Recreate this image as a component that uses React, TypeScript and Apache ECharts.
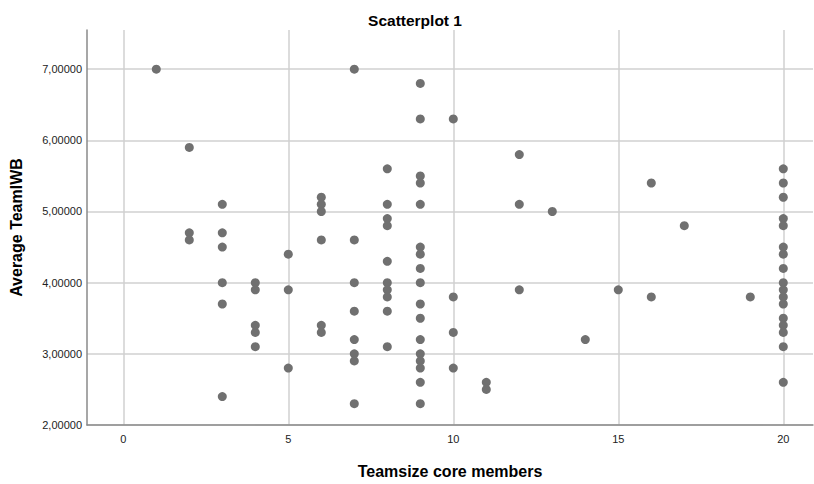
import React, { useEffect, useRef } from "react";
import * as echarts from "echarts";

const teamSize: number[] = [
  1,
  2, 2, 2,
  3, 3, 3, 3, 3, 3,
  4, 4, 4, 4, 4,
  5, 5, 5,
  6, 6, 6, 6, 6, 6,
  7, 7, 7, 7, 7, 7, 7, 7,
  8, 8, 8, 8, 8, 8, 8, 8, 8, 8,
  9, 9, 9, 9, 9, 9, 9, 9, 9, 9, 9, 9, 9, 9, 9, 9, 9,
  10, 10, 10, 10,
  11, 11,
  12, 12, 12,
  13,
  14,
  15,
  16, 16,
  17,
  19,
  20, 20, 20, 20, 20, 20, 20, 20, 20, 20, 20, 20, 20, 20, 20, 20, 20,
];

const teamWB: number[] = [
  7.0,
  5.9, 4.7, 4.6,
  5.1, 4.7, 4.5, 4.0, 3.7, 2.4,
  4.0, 3.9, 3.4, 3.3, 3.1,
  4.4, 3.9, 2.8,
  5.2, 5.1, 5.0, 4.6, 3.4, 3.3,
  7.0, 4.6, 4.0, 3.6, 3.2, 3.0, 2.9, 2.3,
  5.6, 5.1, 4.9, 4.8, 4.3, 4.0, 3.9, 3.8, 3.6, 3.1,
  6.8, 6.3, 5.5, 5.4, 5.1, 4.5, 4.4, 4.2, 4.0, 3.7, 3.5, 3.2, 3.0, 2.9, 2.8, 2.6, 2.3,
  6.3, 3.8, 3.3, 2.8,
  2.6, 2.5,
  5.8, 5.1, 3.9,
  5.0,
  3.2,
  3.9,
  5.4, 3.8,
  4.8,
  3.8,
  5.6, 5.4, 5.2, 4.9, 4.8, 4.5, 4.4, 4.2, 4.0, 3.9, 3.8, 3.7, 3.5, 3.4, 3.3, 3.1, 2.6,
];

const xTicks: number[] = [0, 5, 10, 15, 20];
const yTicks: number[] = [2, 3, 4, 5, 6, 7];

const FONT = "'Liberation Sans', Arial, sans-serif";

export default function App() {
  const ref = useRef<HTMLDivElement>(null);
  useEffect(() => {
    if (!ref.current) return;
    const chart = echarts.init(ref.current, undefined, { renderer: "svg" });
    const data = teamSize.map((x, i) => [x, teamWB[i]]);
    chart.setOption({
      animation: false,
      backgroundColor: "#ffffff",
      textStyle: { fontFamily: FONT },
      title: {
        text: "Scatterplot 1",
        left: 410,
        textAlign: "center",
        top: 7,
        textStyle: { fontFamily: FONT, fontSize: 15.5, fontWeight: "bold", color: "#000" },
      },
      grid: { left: 83, top: 30, right: 1, bottom: 54, containLabel: false },
      xAxis: {
        type: "value",
        min: -1.1,
        max: 20.9,
        name: "Teamsize core members",
        nameLocation: "middle",
        nameGap: 38,
        nameTextStyle: { fontFamily: FONT, fontSize: 16, fontWeight: "bold", color: "#000" },
        axisLine: { show: true, onZero: false, lineStyle: { color: "#8a8a8a", width: 1.5 } },
        axisTick: { show: false, customValues: xTicks },
        axisLabel: {
          customValues: xTicks,
          margin: 8,
          fontFamily: FONT,
          fontSize: 11,
          color: "#222",
        },
        splitLine: { show: true, lineStyle: { color: "#d0d0d0", width: 1.5 } },
      },
      yAxis: {
        type: "value",
        min: 2,
        max: 7.55,
        name: "Average TeamIWB",
        nameLocation: "middle",
        nameGap: 63,
        nameTextStyle: { fontFamily: FONT, fontSize: 16, fontWeight: "bold", color: "#000" },
        axisLine: { show: true, onZero: false, lineStyle: { color: "#8a8a8a", width: 1.5 } },
        axisTick: { show: false, customValues: yTicks },
        axisLabel: {
          customValues: yTicks,
          margin: 5,
          fontFamily: FONT,
          fontSize: 11,
          color: "#222",
          formatter: (v: number) => v.toFixed(5).replace(".", ","),
        },
        splitLine: { show: true, lineStyle: { color: "#d0d0d0", width: 1.5 } },
      },
      series: [
        {
          type: "scatter",
          data,
          symbol: "circle",
          symbolSize: 9,
          itemStyle: { color: "#707070", opacity: 1 },
        },
      ],
    });
    return () => chart.dispose();
  }, []);
  return (
    <div
      ref={ref}
      style={{ position: "fixed", left: 0, top: 0, width: 814, height: 484 }}
    />
  );
}
